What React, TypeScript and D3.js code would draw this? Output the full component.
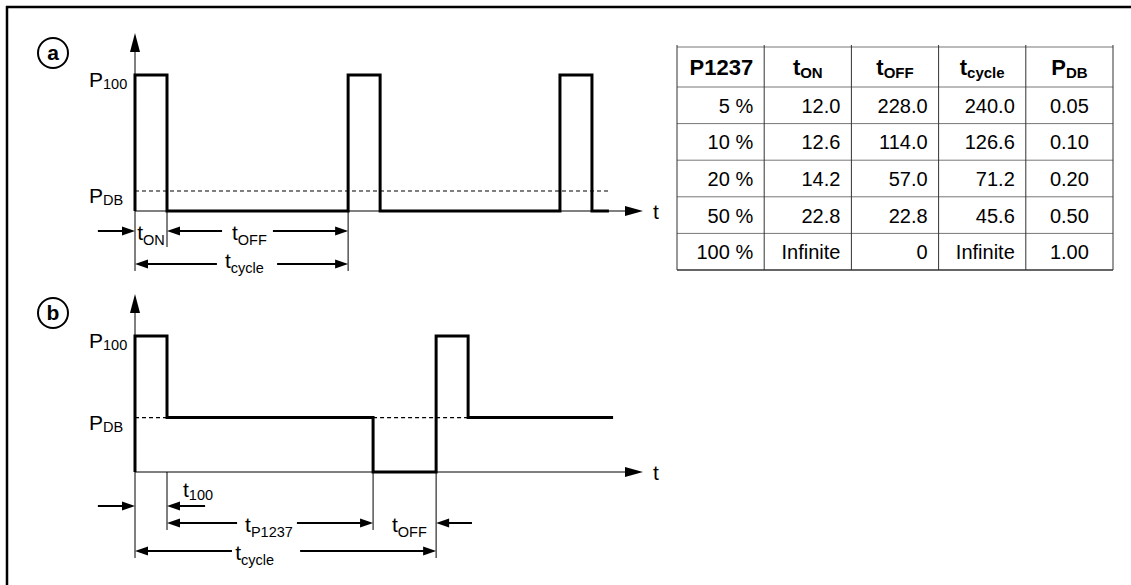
import React from "react";
import * as d3 from "d3";

const FONT = "'Liberation Sans', Arial, Helvetica, sans-serif";

// ---- Data: waveform breakpoints (time units, power level 0..1) ----
const waveATimes = [0, 0, 1, 1, 6.66, 6.66, 7.66, 7.66, 13.28, 13.28, 14.28, 14.28, 14.81];
const waveALevels = [0, 1, 1, 0, 0, 1, 1, 0, 0, 1, 1, 0, 0];
const pdbA = 0.147;
const dashAEnd = 14.84;

const waveBTimes = [0, 0, 1, 1, 7.44, 7.44, 9.41, 9.41, 10.41, 10.41, 14.94];
const waveBLevels = [0, 1, 1, 0.4, 0.4, 0, 0, 1, 1, 0.4, 0.4];
const pdbB = 0.4;
const dashBSegments = [[0, 1], [7.44, 10.41]];

const axisEnd = 15.875;

// ---- Table ----
const tableHeaders = [
  { main: "P1237", sub: "" },
  { main: "t", sub: "ON" },
  { main: "t", sub: "OFF" },
  { main: "t", sub: "cycle" },
  { main: "P", sub: "DB" },
];
const colP1237 = ["5 %", "10 %", "20 %", "50 %", "100 %"];
const colTon = ["12.0", "12.6", "14.2", "22.8", "Infinite"];
const colToff = ["228.0", "114.0", "57.0", "22.8", "0"];
const colTcycle = ["240.0", "126.6", "71.2", "45.6", "Infinite"];
const colPdb = ["0.05", "0.10", "0.20", "0.50", "1.00"];

const x = d3.scaleLinear().domain([0, 1]).range([135, 167]);
const yA = d3.scaleLinear().domain([0, 1]).range([211, 75]);
const yB = d3.scaleLinear().domain([0, 1]).range([472, 336]);

const MAIN = 21;
const SUB = 14.5;

function head(tx: number, ty: number, dir: "l" | "r" | "u", len: number, half: number) {
  let pts: number[][];
  if (dir === "r") pts = [[tx, ty], [tx - len, ty - half], [tx - len, ty + half]];
  else if (dir === "l") pts = [[tx, ty], [tx + len, ty - half], [tx + len, ty + half]];
  else pts = [[tx, ty], [tx - half, ty + len], [tx + half, ty + len]];
  return <polygon points={pts.map((p) => p.join(",")).join(" ")} fill="#000" />;
}

function DimArrow({ t1, t2, y, h1, h2, gap }: { t1: number; t2: number; y: number; h1?: boolean; h2?: boolean; gap?: number[] }) {
  const x1 = x(t1), x2 = x(t2);
  const segs: number[][] = gap ? [[x1, x(gap[0])], [x(gap[1]), x2]] : [[x1, x2]];
  const L = 13, H = 4.5;
  return (
    <g>
      {segs.map((s, i) => {
        const a = s[0] + (h1 && i === 0 ? L - 1 : 0);
        const b = s[1] - (h2 && i === segs.length - 1 ? L - 1 : 0);
        return <line key={i} x1={a} x2={b} y1={y} y2={y} stroke="#000" strokeWidth={2} />;
      })}
      {h1 && head(x1, y, "l", L, H)}
      {h2 && head(x2, y, "r", L, H)}
    </g>
  );
}

function Label({ t, y, main, sub, dy = 5 }: any) {
  return (
    <text x={x(t)} y={y} fontFamily={FONT} fontSize={MAIN}>
      {main}
      <tspan fontSize={SUB} dy={dy}>{sub}</tspan>
    </text>
  );
}

function Panel({ times, levels, y, pdb, dashes, letter, cy }: any) {
  const line = d3
    .line<number>()
    .x((_, i) => x(times[i]))
    .y((_, i) => y(levels[i]));
  const base = y(0);
  return (
    <g>
      <circle cx={53} cy={cy} r={15} fill="none" stroke="#000" strokeWidth={2} />
      <text x={53} y={cy + 7} textAnchor="middle" fontFamily={FONT} fontWeight="bold" fontSize={21}>{letter}</text>
      {/* axes */}
      <line x1={x(0)} x2={x(0)} y1={y(1) - 30} y2={base} stroke="#000" strokeWidth={1} />
      {head(x(0), y(1) - 42, "u", 19, 5)}
      <line x1={x(0)} x2={x(axisEnd) - 10} y1={base} y2={base} stroke="#000" strokeWidth={1} />
      {head(x(axisEnd), base, "r", 18, 5)}
      <text x={x(axisEnd) + 10} y={base + 8} fontFamily={FONT} fontSize={MAIN}>t</text>
      {/* dashed P_DB */}
      {dashes.map((d: number[], i: number) => (
        <line key={i} x1={x(d[0])} x2={x(d[1])} y1={y(pdb)} y2={y(pdb)} stroke="#000" strokeWidth={1.2} strokeDasharray="4,3" />
      ))}
      {/* waveform */}
      <path d={line(times) || ""} fill="none" stroke="#000" strokeWidth={3} strokeLinejoin="miter" />
      {/* level labels */}
      <text x={89} y={y(1) + 12} fontFamily={FONT} fontSize={MAIN}>
        P<tspan fontSize={SUB} dy={2}>100</tspan>
      </text>
      <text x={89} y={y(pdb) + 12} fontFamily={FONT} fontSize={MAIN}>
        P<tspan fontSize={SUB} dy={2}>DB</tspan>
      </text>
    </g>
  );
}

function Table() {
  const x0 = 677, colW = 87.2;
  const yTop = 47, headH = 40, rowH = 36.6;
  const cols = [colP1237, colTon, colToff, colTcycle, colPdb];
  const nRows = colP1237.length;
  const yEnd = yTop + headH + rowH * nRows;
  const rowYs = d3.range(nRows + 1).map((i) => yTop + headH + i * rowH);
  return (
    <g fontFamily={FONT}>
      <line x1={x0} x2={x0 + colW * 5} y1={yTop} y2={yTop} stroke="#777" strokeWidth={1} />
      {rowYs.map((ry, i) => (
        <line key={i} x1={x0} x2={x0 + colW * 5} y1={ry} y2={ry} stroke={i === nRows ? "#333" : "#777"} strokeWidth={i === nRows ? 1.5 : 1} />
      ))}
      {d3.range(6).map((i) => (
        <line key={i} x1={x0 + i * colW} x2={x0 + i * colW} y1={yTop - 2} y2={yEnd} stroke="#333" strokeWidth={1} />
      ))}
      {tableHeaders.map((h, i) => {
        const cx = i === 0 ? x0 + colW - 11 : x0 + i * colW + colW / 2;
        return (
          <text key={i} x={cx} y={yTop + 28} textAnchor={i === 0 ? "end" : "middle"} fontWeight="bold" fontSize={22}>
            {h.main}
            {h.sub && <tspan fontSize={15} dy={3}>{h.sub}</tspan>}
          </text>
        );
      })}
      {cols.map((col, ci) =>
        col.map((v, ri) => {
          const centered = ci === 4;
          const tx = centered ? x0 + ci * colW + colW / 2 : x0 + (ci + 1) * colW - 11;
          return (
            <text key={ci + "-" + ri} x={tx} y={yTop + headH + ri * rowH + rowH / 2 + 7.5} textAnchor={centered ? "middle" : "end"} fontSize={20}>
              {v}
            </text>
          );
        })
      )}
    </g>
  );
}

export default function App() {
  const bA = yA(0);
  const bB = yB(0);
  return (
    <svg width={1131} height={585} style={{ position: "absolute", left: 0, top: 0, background: "#fff" }}>
      <rect x={0} y={0} width={1131} height={585} fill="#fff" />
      {/* frame */}
      <line x1={6} x2={1131} y1={7} y2={7} stroke="#000" strokeWidth={2.5} />
      <line x1={7} x2={7} y1={6} y2={585} stroke="#000" strokeWidth={2.5} />

      <Panel times={waveATimes} levels={waveALevels} y={yA} pdb={pdbA} dashes={[[0, dashAEnd]]} letter="a" cy={53} />
      {/* panel a extension lines */}
      <line x1={x(0)} x2={x(0)} y1={bA} y2={bA + 60} stroke="#000" strokeWidth={1} />
      <line x1={x(1)} x2={x(1)} y1={bA} y2={bA + 36} stroke="#000" strokeWidth={1} />
      <line x1={x(6.66)} x2={x(6.66)} y1={bA} y2={bA + 60} stroke="#000" strokeWidth={1} />
      {/* panel a dimension arrows */}
      <DimArrow t1={-1.16} t2={0} y={bA + 20} h2 />
      <Label t={0.07} y={bA + 29} main="t" sub="ON" />
      <DimArrow t1={1} t2={6.66} y={bA + 20} h1 h2 gap={[2.72, 4.31]} />
      <Label t={3.03} y={bA + 29} main="t" sub="OFF" />
      <DimArrow t1={0} t2={6.66} y={bA + 53} h1 h2 gap={[2.56, 4.44]} />
      <Label t={2.81} y={bA + 57} main="t" sub="cycle" />

      <Panel times={waveBTimes} levels={waveBLevels} y={yB} pdb={pdbB} dashes={dashBSegments} letter="b" cy={313} />
      {/* panel b extension lines */}
      <line x1={x(0)} x2={x(0)} y1={bB} y2={bB + 86} stroke="#000" strokeWidth={1} />
      <line x1={x(1)} x2={x(1)} y1={bB} y2={bB + 58} stroke="#000" strokeWidth={1} />
      <line x1={x(7.44)} x2={x(7.44)} y1={bB} y2={bB + 58} stroke="#000" strokeWidth={1} />
      <line x1={x(9.41)} x2={x(9.41)} y1={bB} y2={bB + 86} stroke="#000" strokeWidth={1} />
      {/* panel b dimension arrows */}
      <DimArrow t1={-1.16} t2={0} y={bB + 34} h2 />
      <DimArrow t1={1} t2={2.19} y={bB + 34} h1 />
      <Label t={1.5} y={bB + 25} main="t" sub="100" dy={3} />
      <DimArrow t1={1} t2={7.44} y={bB + 51} h1 h2 gap={[3.19, 5.06]} />
      <Label t={3.44} y={bB + 60} main="t" sub="P1237" />
      <DimArrow t1={9.41} t2={10.53} y={bB + 51} h1 />
      <Label t={8.03} y={bB + 60} main="t" sub="OFF" />
      <DimArrow t1={0} t2={9.41} y={bB + 79} h1 h2 gap={[3.03, 5.16]} />
      <Label t={3.13} y={bB + 88} main="t" sub="cycle" />

      <Table />
    </svg>
  );
}
